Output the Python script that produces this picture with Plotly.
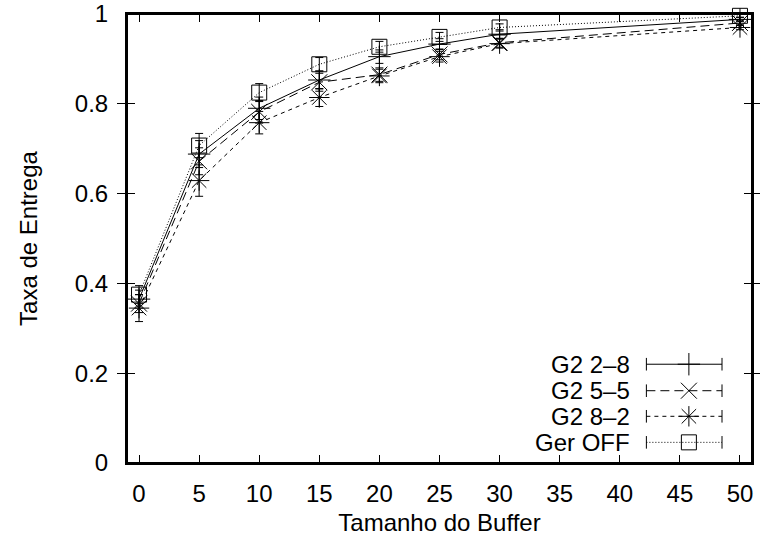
import plotly.graph_objects as go

# ---- data ----
buffer_sizes = [0, 5, 10, 15, 20, 25, 30, 50]
series_names = ["G2 2\u20138", "G2 5\u20135", "G2 8\u20132", "Ger OFF"]
g2_28 = [0.365, 0.688, 0.790, 0.853, 0.905, 0.933, 0.955, 0.988]
g2_55 = [0.355, 0.672, 0.782, 0.848, 0.865, 0.910, 0.936, 0.980]
g2_82 = [0.345, 0.629, 0.758, 0.814, 0.862, 0.905, 0.934, 0.970]
ger_off = [0.375, 0.707, 0.825, 0.888, 0.927, 0.949, 0.970, 0.996]
err_28 = [0.020, 0.030, 0.025, 0.020, 0.015, 0.012, 0.010, 0.005]
err_55 = [0.020, 0.030, 0.025, 0.020, 0.015, 0.012, 0.010, 0.005]
err_82 = [0.030, 0.035, 0.025, 0.020, 0.015, 0.012, 0.010, 0.005]
err_off = [0.020, 0.027, 0.020, 0.015, 0.012, 0.010, 0.008, 0.004]
x_ticks = [0, 5, 10, 15, 20, 25, 30, 35, 40, 45, 50]
y_ticks = [0, 0.2, 0.4, 0.6, 0.8, 1]
y_tick_labels = ["0", "0.2", "0.4", "0.6", "0.8", "1"]
x_range = [-1, 51]
y_range = [0, 1]

FONT = "Liberation Sans, Arial, Helvetica, sans-serif"
FS = 24

styles = [
    dict(dash="solid", symbol="cross-thin", size=16),
    dict(dash="9px,5px", symbol="x-thin", size=16),
    dict(dash="4px,4px", symbol="asterisk", size=17),
    dict(dash="1px,2px", symbol="square-open", size=15),
]
values = [g2_28, g2_55, g2_82, ger_off]
errors = [err_28, err_55, err_82, err_off]

fig = go.Figure()
for name, vals, errs, st in zip(series_names, values, errors, styles):
    fig.add_trace(go.Scatter(
        x=buffer_sizes, y=vals, name=name, mode="lines+markers",
        line=dict(color="black", width=1, dash=st["dash"]),
        marker=dict(symbol=st["symbol"], size=st["size"], color="black",
                    line=dict(color="black", width=1)),
        error_y=dict(type="data", array=errs, visible=True, color="black",
                     thickness=1, width=4),
        showlegend=False, cliponaxis=False,
    ))

# ---- manual gnuplot-style legend (0..1 = plot area on hidden overlay axes) ----
leg_x0, leg_x1, leg_xm = 0.831, 0.952, 0.899
leg_rows = [0.220, 0.161, 0.104, 0.046]
leg_text_x = 0.808
for name, st, ly in zip(series_names, styles, leg_rows):
    fig.add_trace(go.Scatter(
        x=[leg_x0, leg_x1], y=[ly, ly], xaxis="x2", yaxis="y2", mode="lines+markers",
        line=dict(color="black", width=1, dash=st["dash"]),
        marker=dict(symbol="line-ns", size=9, color="black", line=dict(color="black", width=1)),
        showlegend=False, hoverinfo="skip",
    ))
    fig.add_trace(go.Scatter(
        x=[leg_xm], y=[ly], xaxis="x2", yaxis="y2", mode="markers",
        marker=dict(symbol=st["symbol"], size=st["size"], color="black",
                    line=dict(color="black", width=1)),
        showlegend=False, hoverinfo="skip",
    ))
    fig.add_annotation(x=leg_text_x, y=ly, xref="x2", yref="y2", text=name,
                       showarrow=False, xanchor="right", yanchor="middle",
                       font=dict(family=FONT, size=FS, color="black"))

axis_common = dict(showline=True, linewidth=2, linecolor="black", mirror="allticks",
                   ticks="inside", ticklen=8, tickwidth=1, tickcolor="black",
                   showgrid=False, zeroline=False, automargin=False,
                   ticklabeloverflow="allow",
                   tickfont=dict(family=FONT, size=FS, color="black"))

# plot frame drawn as a shape as well (gnuplot border)
fig.add_shape(type="rect", xref="x domain", yref="y domain", x0=0, x1=1, y0=0, y1=1,
              line=dict(color="black", width=2), layer="above")

fig.update_layout(
    width=760, height=545,
    margin=dict(l=127, r=8, t=14, b=82, autoexpand=False),
    paper_bgcolor="white", plot_bgcolor="white",
    font=dict(family=FONT, size=FS, color="black"),
    xaxis=dict(range=x_range, tickvals=x_ticks, ticklabelstandoff=8, **axis_common,
               title=dict(text="Tamanho do Buffer", standoff=8,
                          font=dict(family=FONT, size=FS, color="black"))),
    yaxis=dict(range=y_range, tickvals=y_ticks, ticktext=y_tick_labels,
               ticklabelstandoff=12, **axis_common,
               title=dict(text="Taxa de Entrega", standoff=30,
                          font=dict(family=FONT, size=FS, color="black"))),
    xaxis2=dict(range=[0, 1], overlaying="x", visible=False, fixedrange=True),
    yaxis2=dict(range=[0, 1], overlaying="y", visible=False, fixedrange=True),
    # top-edge inside ticks (gnuplot mirrored x tics)
    xaxis3=dict(range=x_range, tickvals=x_ticks, overlaying="x", side="top", anchor="y",
                ticks="inside", ticklen=8, tickwidth=1, tickcolor="black",
                showticklabels=False, showline=False, showgrid=False, zeroline=False,
                automargin=False, fixedrange=True),
    showlegend=False,
)
# invisible anchor trace so the top tick axis is drawn
fig.add_trace(go.Scatter(x=[buffer_sizes[0]], y=[g2_28[0]], xaxis="x3", yaxis="y",
                         mode="markers", marker=dict(opacity=0), showlegend=False,
                         hoverinfo="skip"))

fig.write_html("out.html")
